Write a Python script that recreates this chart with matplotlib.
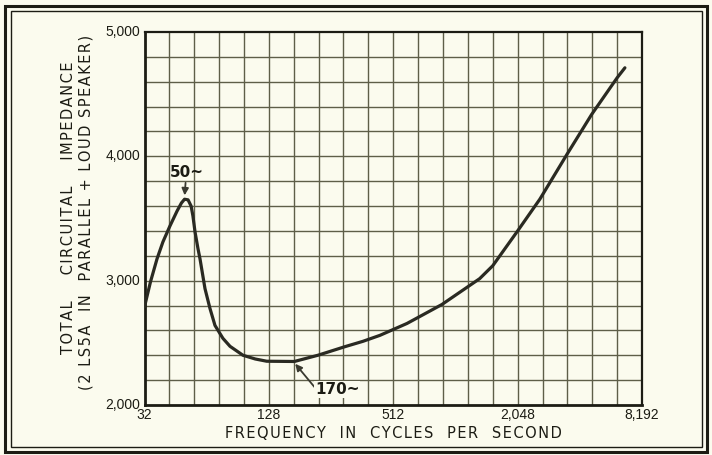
import matplotlib
matplotlib.use("Agg")
import matplotlib.pyplot as plt
from matplotlib.patches import Rectangle
import numpy as np

# Impedance curve: frequency (c/s) and total circuital impedance (ohms)
freq = [32, 34.2, 36.8, 39.3, 42.5, 46, 48.3, 50, 52, 53.8, 54.9, 56.2,
        58.1, 59.4, 62.8, 66.4, 70.2, 76.7, 83, 95.9, 110, 125, 170, 221,
        300, 365, 441, 597, 880, 1341, 1552, 2048, 2625, 3550, 4670, 6210,
        6770]
impedance = [2790, 2990, 3176, 3312, 3440, 3560, 3625, 3655, 3650, 3600,
             3520, 3392, 3256, 3176, 2936, 2776, 2640, 2536, 2472, 2400,
             2370, 2352, 2350, 2400, 2470, 2512, 2560, 2656, 2808, 3016,
             3120, 3400, 3656, 4016, 4336, 4632, 4712]

x_ticks = [32, 128, 512, 2048, 8192]
x_tick_labels = ["32", "128", "512", "2,048", "8,192"]
y_ticks = [2000, 3000, 4000, 5000]
y_tick_labels = ["2,000", "3,000", "4,000", "5,000"]

peak_label = ("50~", 50, 3655)
trough_label = ("170~", 170, 2350)

paper = "#fbfbee"
ink = "#1c1c14"
grid_c = "#5e5e48"


def spaced(text):
    """Open up the letter spacing with hair spaces."""
    return "\u200a".join(text)


fig = plt.figure(figsize=(7.12, 4.55), dpi=100, facecolor=paper)
plt.rcParams["font.family"] = ["Liberation Sans", "DejaVu Sans"]

# double frame around the figure
fig.patches.append(Rectangle((5 / 712, 1 - 452 / 455), 702 / 712, 446 / 455,
                             transform=fig.transFigure, fill=False,
                             lw=2.2, ec=ink))
fig.patches.append(Rectangle((11 / 712, 1 - 447 / 455), 691 / 712, 436 / 455,
                             transform=fig.transFigure, fill=False,
                             lw=1.0, ec=ink))

ax = fig.add_axes([144.5 / 712, 1 - 405 / 455, 497.5 / 712, 373 / 455])
ax.set_facecolor(paper)
ax.set_xscale("log", base=2)
ax.set_xlim(32, 8192)
ax.set_ylim(2000, 5000)

# graph-paper grid: 20 columns across 8 octaves, 15 rows
for k in range(1, 20):
    ax.axvline(32 * 2 ** (0.4 * k), color=grid_c, lw=1.0, zorder=1)
for v in np.arange(2200, 5000, 200):
    ax.axhline(v, color=grid_c, lw=1.0, zorder=1)

ax.plot(freq, impedance, color="#2a2a22", lw=2.3, zorder=3,
        solid_capstyle="round", solid_joinstyle="round")

ax.set_xticks(x_ticks)
ax.set_xticklabels(x_tick_labels)
ax.set_xticks([], minor=True)
ax.set_yticks(y_ticks)
ax.set_yticklabels(y_tick_labels)
ax.tick_params(length=0, labelsize=10, colors=ink, pad=2)
ax.tick_params(axis="y", pad=3)
for lbl in ax.get_yticklabels():
    lbl.set_verticalalignment("center")

for side, w in (("left", 2.0), ("bottom", 2.0), ("top", 1.6), ("right", 1.6)):
    ax.spines[side].set_linewidth(w)
    ax.spines[side].set_color(ink)

label_font = dict(fontsize=10.5, color=ink, family=["DejaVu Sans"])
ax.set_xlabel(spaced("FREQUENCY  IN  CYCLES  PER  SECOND"), labelpad=3,
              **label_font)

fig.text(69 / 712, 1 - 208 / 455, spaced("TOTAL    CIRCUITAL    IMPEDANCE"),
         rotation=90, ha="center", va="center", **label_font)
fig.text(86 / 712, 1 - 212 / 455,
         spaced("(2 LS5A  IN  PARALLEL + LOUD SPEAKER)"),
         rotation=90, ha="center", va="center", **label_font)

arrow = dict(arrowstyle="-|>", color="#3a3a30", lw=1.3,
             mutation_scale=10, shrinkA=0, shrinkB=1)
ax.annotate(peak_label[0], xy=(peak_label[1], peak_label[2] + 20),
            xytext=(51, 3870), textcoords="data", ha="center", va="center",
            fontsize=11, fontweight="bold", color=ink,
            family=["DejaVu Sans"], arrowprops=arrow, zorder=5)
ax.annotate(trough_label[0], xy=(trough_label[1], trough_label[2] - 10),
            xytext=(275, 2125), textcoords="data", ha="center", va="center",
            fontsize=11, fontweight="bold", color=ink,
            family=["DejaVu Sans"],
            bbox=dict(fc=paper, ec="none", pad=0.5),
            arrowprops=dict(arrow, relpos=(0, 0.6)), zorder=5)

fig.savefig("out.png", dpi=100, facecolor=paper)
